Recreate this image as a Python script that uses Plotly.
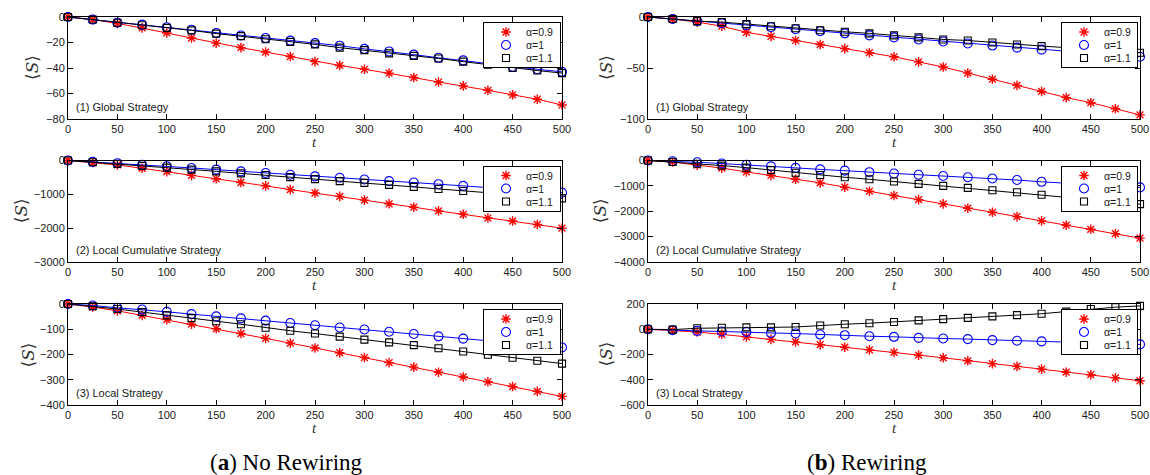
import numpy as np
import plotly.graph_objects as go

W, H = 1150, 475

# ---------------- data ----------------
t = list(range(0, 501, 25))
labels = ["α=0.9", "α=1", "α=1.1"]
strategy_labels = ["(1) Global Strategy", "(2) Local Cumulative Strategy", "(3) Local Strategy"]
captions = ["(<b>a</b>) No Rewiring", "(<b>b</b>) Rewiring"]
x_ticks = [0, 50, 100, 150, 200, 250, 300, 350, 400, 450, 500]

# (a) No Rewiring
a1_09 = [0, -2, -5, -8.5, -12.5, -16.5, -20.5, -24, -27.5, -31, -35, -38, -41, -44, -47.5, -51, -54, -57.5, -61, -64.5, -69]
a1_10 = [0, -2, -4.5, -6, -8, -10, -12.5, -14.5, -16.5, -18.5, -20.5, -22.5, -25, -27, -29.5, -32, -34, -36.5, -39, -41, -43]
a1_11 = [0, -2, -4.5, -6.5, -8.5, -10.5, -13, -15, -17.5, -19.5, -21.5, -24, -26, -28.5, -30.5, -32.5, -35, -37.5, -40, -42, -44]

a2_09 = [0, -60, -130, -230, -330, -440, -540, -650, -750, -860, -960, -1060, -1170, -1280, -1380, -1490, -1590, -1700, -1790, -1890, -2000]
a2_10 = [0, -40, -80, -130, -170, -220, -270, -320, -370, -420, -470, -510, -560, -610, -650, -700, -750, -800, -850, -900, -950]
a2_11 = [0, -50, -100, -160, -210, -270, -320, -380, -430, -490, -550, -610, -660, -720, -780, -840, -900, -950, -1000, -1060, -1120]

a3_09 = [0, -12, -27, -45, -62, -80, -98, -117, -136, -155, -174, -193, -212, -232, -250, -270, -289, -308, -327, -346, -366]
a3_10 = [0, -6, -15, -22, -31, -40, -49, -57, -66, -75, -84, -93, -101, -110, -119, -128, -137, -146, -154, -163, -172]
a3_11 = [0, -9, -20, -32, -45, -56, -68, -80, -94, -106, -117, -129, -141, -152, -163, -175, -188, -201, -213, -225, -236]

# (b) Rewiring
b1_09 = [0, -2, -5, -9, -15, -19, -23, -27, -31, -35, -39, -44, -49, -55, -61, -67, -73, -79, -84, -90, -96]
b1_10 = [0, -2, -4, -6, -8, -10, -12, -14, -16, -18, -20, -22, -24, -26, -28, -30, -32, -34, -35.5, -37, -39]
b1_11 = [0, -2, -4, -5, -7, -9, -11, -13, -14.5, -16, -18, -20, -22, -23, -25, -27, -28.5, -30, -32, -33.5, -35]

b2_09 = [0, -60, -180, -300, -450, -590, -740, -880, -1050, -1210, -1380, -1540, -1710, -1880, -2040, -2210, -2380, -2550, -2710, -2880, -3060]
b2_10 = [0, -30, -70, -120, -170, -230, -290, -350, -400, -460, -510, -560, -610, -660, -710, -770, -840, -900, -950, -1000, -1060]
b2_11 = [0, -60, -130, -200, -280, -380, -480, -570, -660, -740, -830, -920, -1000, -1080, -1170, -1250, -1350, -1440, -1540, -1630, -1720]

b3_09 = [0, -8, -22, -40, -60, -80, -100, -122, -142, -163, -183, -205, -226, -250, -272, -294, -316, -340, -360, -385, -408]
b3_10 = [0, -8, -13, -18, -21, -29, -34, -42, -47, -55, -60, -68, -73, -78, -86, -91, -96, -102, -108, -114, -120]
b3_11 = [0, -3, 8, 12, 15, 15, 18, 30, 40, 48, 58, 70, 80, 90, 102, 112, 123, 140, 160, 175, 185]

# y axis ranges / ticks per panel
y_ranges = [[-80, 0], [-3000, 0], [-400, 0], [-100, 0], [-4000, 0], [-600, 200]]
y_ticks = [
    [-80, -60, -40, -20, 0],
    [-3000, -2000, -1000, 0],
    [-400, -300, -200, -100, 0],
    [-100, -50, 0],
    [-4000, -3000, -2000, -1000, 0],
    [-600, -400, -200, 0, 200],
]
series = [
    [a1_09, a1_10, a1_11],
    [a2_09, a2_10, a2_11],
    [a3_09, a3_10, a3_11],
    [b1_09, b1_10, b1_11],
    [b2_09, b2_10, b2_11],
    [b3_09, b3_10, b3_11],
]

# ---------------- styles / layout geometry (pixels) ----------------
colors = ["#ff0000", "#0000ff", "#000000"]
symbols = ["asterisk-open", "circle-open", "square-open"]
msizes = [8, 9, 7]
mlw = [1.4, 1.1, 1.1]

col_x = [(68, 562), (648, 1140)]
row_y = [(17, 119), (160.5, 262), (304, 405)]
ylab_x = [[32, 21, 27], [606, 600, 605]]
leg_x = [(484, 560), (1062, 1137)]
TEXT = "#1a1a1a"
SANS = "Liberation Sans, Arial, sans-serif"


def px(x):
    return x / W


def py(y):
    return 1 - y / H


fig = go.Figure()
layout = dict(
    width=W, height=H, autosize=False,
    margin=dict(l=0, r=0, t=0, b=0),
    paper_bgcolor="white", plot_bgcolor="white",
    showlegend=False, template="none",
    font=dict(family=SANS, color=TEXT, size=11),
)
annotations = []

for p in range(6):
    c, r = divmod(p, 3)
    ax = p + 1
    xs = "" if ax == 1 else str(ax)
    x0, x1 = col_x[c]
    y0, y1 = row_y[r]
    lo, hi = y_ranges[p]
    eps = (hi - lo) * 1e-4
    axis_common = dict(
        showline=True, linecolor="black", linewidth=1, mirror="ticks",
        ticks="inside", ticklen=5, tickwidth=1, tickcolor="black",
        showgrid=False, zeroline=False, fixedrange=True,
        tickfont=dict(family=SANS, size=11, color=TEXT),
    )
    layout["xaxis" + xs] = dict(axis_common, domain=[px(x0), px(x1)], range=[0, 500],
                                tickvals=x_ticks, anchor="y" + xs)
    layout["yaxis" + xs] = dict(axis_common, domain=[py(y1), py(y0)], range=[lo, hi + eps],
                                tickvals=y_ticks[p], anchor="x" + xs)
    # main lines (drawn red, blue, black)
    for k in range(3):
        fig.add_trace(go.Scatter(
            x=t, y=series[p][k], mode="lines+markers", name=labels[k],
            xaxis="x" + xs, yaxis="y" + xs, cliponaxis=False,
            line=dict(color=colors[k], width=1),
            marker=dict(symbol=symbols[k], size=msizes[k], color=colors[k],
                        line=dict(color=colors[k], width=mlw[k])),
            showlegend=False, hoverinfo="skip",
        ))
    # inset legend (as its own small axes)
    li = p + 7
    lx0, lx1 = leg_x[c]
    ly0 = y0 + 6
    ly1 = ly0 + 44
    wbox = lx1 - lx0
    xr = [-22 / 18, -22 / 18 + wbox / 18]
    yr = [(44 - 9) / 13, -9 / 13]
    leg_axis = dict(showline=True, linecolor="black", linewidth=1, mirror=True,
                    ticks="", showticklabels=False, showgrid=False, zeroline=False,
                    fixedrange=True)
    layout["xaxis%d" % li] = dict(leg_axis, domain=[px(lx0), px(lx1)], range=xr, anchor="y%d" % li)
    layout["yaxis%d" % li] = dict(leg_axis, domain=[py(ly1), py(ly0)], range=yr, anchor="x%d" % li)
    idx = np.arange(len(labels))
    for k in range(3):
        fig.add_trace(go.Scatter(
            x=[0], y=[idx[k]], mode="markers", xaxis="x%d" % li, yaxis="y%d" % li,
            marker=dict(symbol=symbols[k], size=msizes[k], color=colors[k],
                        line=dict(color=colors[k], width=mlw[k])),
            showlegend=False, hoverinfo="skip", cliponaxis=False,
        ))
        annotations.append(dict(
            x=1, y=idx[k], xref="x%d" % li, yref="y%d" % li, text=labels[k],
            xanchor="left", yanchor="middle", showarrow=False,
            font=dict(family=SANS, size=10.5, color=TEXT),
        ))
    # strategy annotation
    annotations.append(dict(
        x=px(x0 + 6), y=py(y1 - 12), xref="paper", yref="paper",
        text=strategy_labels[r], xanchor="left", yanchor="middle", showarrow=False,
        font=dict(family=SANS, size=11, color=TEXT),
    ))
    # y label
    annotations.append(dict(
        x=px(ylab_x[c][r]), y=py((y0 + y1) / 2), xref="paper", yref="paper",
        text="⟨<i>S</i>⟩", textangle=-90, xanchor="center", yanchor="middle",
        showarrow=False,
        font=dict(family="DejaVu Serif, Liberation Serif, serif", size=17, color="#333333"),
    ))
    # x label
    annotations.append(dict(
        x=px((x0 + x1) / 2), y=py(y1 + 23), xref="paper", yref="paper",
        text="<i>t</i>", xanchor="center", yanchor="middle", showarrow=False,
        font=dict(family="Liberation Serif, serif", size=15, color="#333333"),
    ))

# captions
cap_x = [286, 867]
for c in range(2):
    annotations.append(dict(
        x=px(cap_x[c]), y=py(462), xref="paper", yref="paper", text=captions[c],
        xanchor="center", yanchor="middle", showarrow=False,
        font=dict(family="Liberation Serif, serif", size=23, color="black"),
    ))

layout["annotations"] = annotations
fig.update_layout(**layout)
fig.write_html("out.html")
